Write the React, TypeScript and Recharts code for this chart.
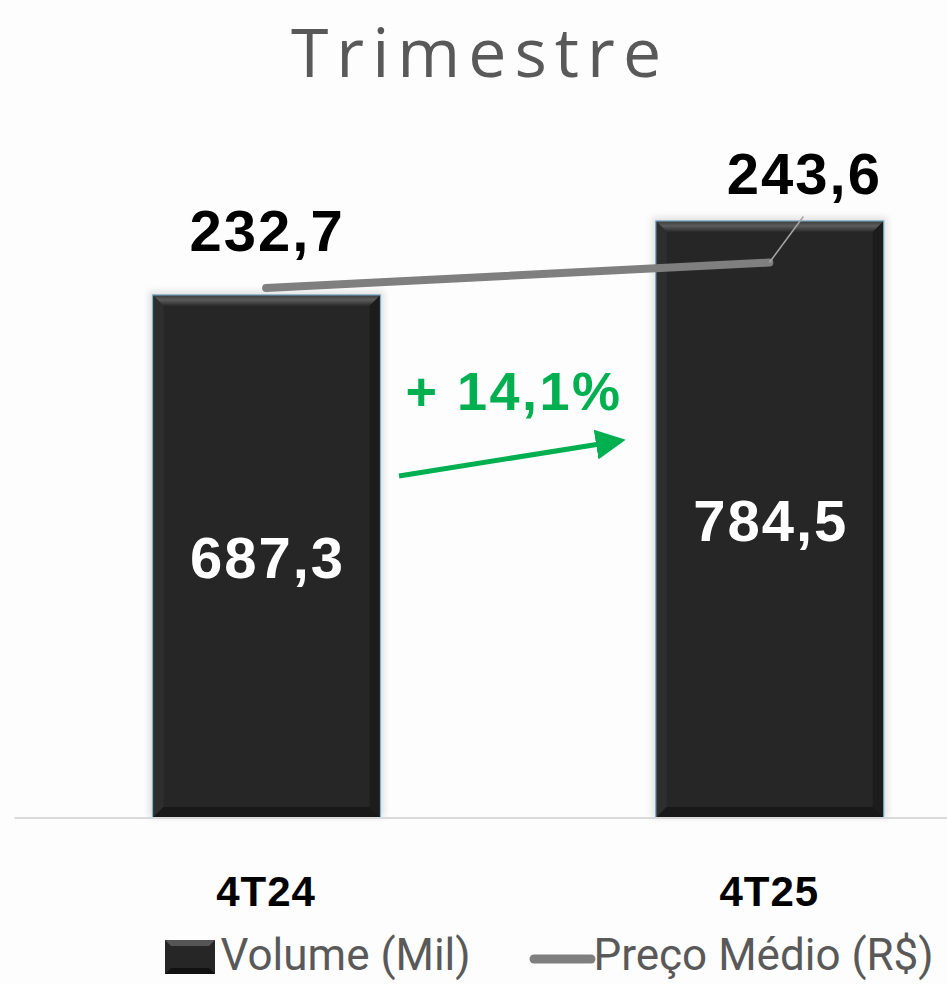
import React from "react";
import {
  ComposedChart,
  Bar,
  Line,
  XAxis,
  YAxis,
  Legend,
  LabelList,
} from "recharts";

const categories = ["4T24", "4T25"];
const volume = [687.3, 784.5];
const price = [232.7, 243.6];
const growthLabel = "+ 14,1%";

const data = categories.map((c, i) => ({
  period: c,
  volume: volume[i],
  price: price[i],
}));

const fmt = (v: number) => v.toFixed(1).replace(".", ",");

const BAR_FILL = "#262626";
const LINE_COLOR = "#7f7f7f";
const GREEN = "#00b050";
const GRAY_TEXT = "#595959";
const BOLD_FONT = "Liberation Sans, Arial, sans-serif";

// dark bar with a bevelled edge like the office template
const BevelBar = (props: any) => {
  const { x, y, width, height } = props;
  if (!height) return null;
  const b = 11;
  return (
    <g>
      <rect
        x={x - 4}
        y={y - 4}
        width={width + 8}
        height={height + 4}
        fill="#000"
        opacity={0.1}
        filter="url(#barGlow)"
      />
      <rect x={x} y={y} width={width} height={height} fill={BAR_FILL} />
      <polygon
        points={`${x},${y} ${x + width},${y} ${x + width - b},${y + b} ${x + b},${y + b}`}
        fill="url(#bevelTop)"
      />
      <polygon
        points={`${x},${y} ${x + b},${y + b} ${x + b},${y + height - b} ${x},${y + height}`}
        fill="#2e2e2e"
      />
      <polygon
        points={`${x + width},${y} ${x + width - b},${y + b} ${x + width - b},${y + height - b} ${x + width},${y + height}`}
        fill="#1c1c1c"
      />
      <polygon
        points={`${x},${y + height} ${x + b},${y + height - b} ${x + width - b},${y + height - b} ${x + width},${y + height}`}
        fill="#181818"
      />
      <rect
        x={x}
        y={y}
        width={width}
        height={height}
        fill="none"
        stroke="#7fb2cc"
        strokeWidth={1.2}
      />
    </g>
  );
};

const VolumeLabel = (props: any) => {
  const { x, y, width, height, value } = props;
  return (
    <text
      x={x + width / 2 + 1}
      y={y + height / 2 + 22}
      textAnchor="middle"
      fill="#ffffff"
      fontFamily={BOLD_FONT}
      fontWeight="bold"
      fontSize={58}
      letterSpacing={2}
    >
      {fmt(value)}
    </text>
  );
};

const PriceLabel = (props: any) => {
  const { x, y, value, index } = props;
  if (index === 0) {
    return (
      <text
        x={x + 1}
        y={y - 37}
        textAnchor="middle"
        fill="#000"
        fontFamily={BOLD_FONT}
        fontWeight="bold"
        fontSize={58}
        letterSpacing={2}
      >
        {fmt(value)}
      </text>
    );
  }
  return (
    <g>
      <line x1={x} y1={y} x2={x + 34} y2={y - 46} stroke="#a6a6a6" strokeWidth={1.5} />
      <text
        x={x + 35}
        y={y - 69}
        textAnchor="middle"
        fill="#000"
        fontFamily={BOLD_FONT}
        fontWeight="bold"
        fontSize={58}
        letterSpacing={2}
      >
        {fmt(value)}
      </text>
    </g>
  );
};

const PeriodTick = (props: any) => {
  const { x, y, payload } = props;
  return (
    <text
      x={x}
      y={y + 80}
      textAnchor="middle"
      fill="#000"
      fontFamily={BOLD_FONT}
      fontWeight="bold"
      fontSize={42}
      letterSpacing={1}
    >
      {payload.value}
    </text>
  );
};

const LegendContent = () => (
  <div
    style={{
      height: 66,
      position: "relative",
      fontFamily: "Roboto, sans-serif",
      fontSize: 44,
      color: GRAY_TEXT,
      whiteSpace: "nowrap",
    }}
  >
    <svg
      width={60}
      height={40}
      style={{ position: "absolute", left: 150, top: 20 }}
    >
      <rect x={0} y={2} width={50} height={34} fill={BAR_FILL} />
      <polygon points="0,2 50,2 44,8 6,8" fill="#555" />
      <polygon points="0,36 50,36 44,30 6,30" fill="#111" />
    </svg>
    <span style={{ position: "absolute", left: 206, top: 11 }}>Volume (Mil)</span>
    <svg
      width={70}
      height={20}
      style={{ position: "absolute", left: 514, top: 31 }}
    >
      <line
        x1={5}
        y1={10}
        x2={62}
        y2={10}
        stroke={LINE_COLOR}
        strokeWidth={9}
        strokeLinecap="round"
      />
    </svg>
    <span style={{ position: "absolute", left: 579, top: 11 }}>
      Preço Médio (R$)
    </span>
  </div>
);

export default function App() {
  return (
    <div
      style={{
        position: "absolute",
        left: 0,
        top: 0,
        width: 947,
        height: 984,
        overflow: "hidden",
        background: "#fdfdfd",
      }}
    >
      <ComposedChart
        width={1021}
        height={984}
        data={data}
        margin={{ top: 133, right: 0, bottom: 0, left: 14.5 }}
      >
        <defs>
          <linearGradient id="bevelTop" x1="0" y1="0" x2="0" y2="1">
            <stop offset="0%" stopColor="#3a3a3a" />
            <stop offset="45%" stopColor="#5c5c5c" />
            <stop offset="100%" stopColor="#2a2a2a" />
          </linearGradient>
          <filter id="barGlow" x="-10%" y="-10%" width="120%" height="120%">
            <feGaussianBlur stdDeviation="3" />
          </filter>
        </defs>
        <XAxis
          dataKey="period"
          height={100}
          axisLine={{ stroke: "#d9d9d9", strokeWidth: 2 }}
          tickLine={false}
          tick={<PeriodTick />}
        />
        <YAxis yAxisId="vol" domain={[0, 900]} hide />
        <YAxis yAxisId="price" orientation="right" domain={[6, 299]} hide />
        <Legend
          verticalAlign="bottom"
          content={() => <LegendContent />}
        />
        <Bar
          yAxisId="vol"
          dataKey="volume"
          name="Volume (Mil)"
          barSize={228}
          shape={<BevelBar />}
          isAnimationActive={false}
        >
          <LabelList dataKey="volume" content={<VolumeLabel />} />
        </Bar>
        <Line
          yAxisId="price"
          type="linear"
          dataKey="price"
          name="Preço Médio (R$)"
          stroke={LINE_COLOR}
          strokeWidth={8}
          strokeLinecap="round"
          dot={false}
          activeDot={false}
          isAnimationActive={false}
        >
          <LabelList dataKey="price" content={<PriceLabel />} />
        </Line>
      </ComposedChart>
      <svg
        width={947}
        height={984}
        style={{ position: "absolute", left: 0, top: 0, pointerEvents: "none" }}
      >
        <defs>
          <marker
            id="arrowHead"
            markerWidth="6"
            markerHeight="6"
            refX="2"
            refY="3"
            orient="auto"
            markerUnits="strokeWidth"
          >
            <path d="M0,0 L6,3 L0,6 z" fill={GREEN} />
          </marker>
        </defs>
        <text
          x={480}
          y={77}
          textAnchor="middle"
          fill={GRAY_TEXT}
          fontFamily="Open Sans, sans-serif"
          fontSize={68}
          letterSpacing={8}
        >
          Trimestre
        </text>
        <text
          x={514}
          y={410}
          textAnchor="middle"
          fill={GREEN}
          fontFamily={BOLD_FONT}
          fontWeight="bold"
          fontSize={54}
          letterSpacing={2.5}
        >
          {growthLabel}
        </text>
        <line
          x1={399}
          y1={476}
          x2={606}
          y2={443}
          stroke={GREEN}
          strokeWidth={5}
          markerEnd="url(#arrowHead)"
        />
      </svg>
    </div>
  );
}
